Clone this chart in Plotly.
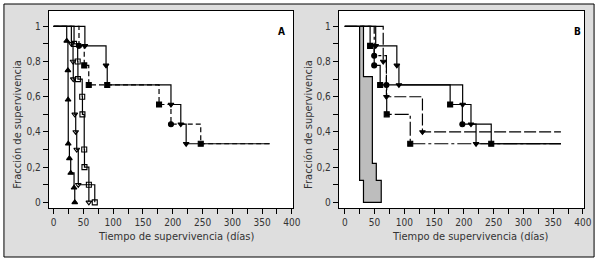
import plotly.graph_objects as go

W, H = 607, 264

# ---------------- data ----------------
x_ticks = list(range(0, 401, 25))
x_labels = [str(v) if v % 50 == 0 else "" for v in x_ticks]
y_ticks = [round(i * 0.1, 1) for i in range(11)]
y_labels = ["0", "", "0,2", "", "0,4", "", "0,6", "", "0,8", "", "1"]
end_day = 363

# Panel A
a_tri_t = [22, 24, 24.3, 24.6, 26.5, 28.7, 34.3, 35.5]
a_tri_s = [0.917, 0.75, 0.583, 0.333, 0.25, 0.167, 0.083, 0.0]
a_tri_open_t = [29.8, 32.6, 33, 35.5, 37.1, 38.8, 41.4, 59.2]
a_tri_open_s = [0.9, 0.8, 0.7, 0.5, 0.4, 0.3, 0.1, 0.0]
a_sq_open_t = [34.3, 40.4, 40.8, 48, 48.4, 51.4, 51.8, 59.2, 69.1]
a_sq_open_s = [0.9, 0.8, 0.7, 0.6, 0.5, 0.3, 0.2, 0.1, 0.0]
a_solid_t = [52.5, 88, 90, 197, 213.5, 222.5]
a_solid_s = [0.889, 0.778, 0.667, 0.556, 0.444, 0.333]
a_dash_t = [42.6, 51.4, 59, 177, 197, 247]
a_dash_s = [0.889, 0.778, 0.667, 0.556, 0.444, 0.333]

# Panel B
b_band_start = 25
b_band_upper_t = [31.5, 46.4, 53, 61.3]
b_band_upper_s = [0.714, 0.222, 0.125, 0.0]
b_band_lower_t = [25, 31.5]
b_band_lower_s = [0.125, 0.0]
b_ref1_t = [52, 87.5, 91, 198, 212, 220.5]
b_ref1_s = [0.889, 0.778, 0.667, 0.556, 0.444, 0.333]
b_ref2_t = [42.6, 49.5, 59.5, 177, 197.5, 246]
b_ref2_s = [0.889, 0.778, 0.667, 0.556, 0.444, 0.333]
b_g3_t = [49.5, 70, 70.5, 110]
b_g3_s = [0.833, 0.667, 0.5, 0.333]
b_g4_t = [64.6, 70, 130.5]
b_g4_s = [0.8, 0.6, 0.4]

# ---------------- styles ----------------
FONT = "Liberation Sans Narrow, DejaVu Sans Condensed, Arial Narrow, sans-serif"
sym_a_solid = ["triangle-down", "triangle-down", "square", "triangle-down", "triangle-down", "triangle-down"]
sym_a_dash = ["circle", "square", "square", "square", "circle", "square"]
sym_b_ref1 = ["triangle-down"] * 6
sym_b_ref2 = ["square", "circle", "square", "square", "circle", "square"]
sym_b_g3 = ["circle", "circle", "square", "square"]
sym_b_g4 = ["triangle-down"] * 3


def step_xy(times, surv, end=None):
    xs = [0] + list(times)
    ys = [1.0] + list(surv)
    if end is not None:
        xs.append(end)
        ys.append(surv[-1])
    return xs, ys


fig = go.Figure()


def km(times, surv, xa, ya, dash, symbols, size=5, end=None, open_marker=False):
    xs, ys = step_xy(times, surv, end)
    fig.add_trace(go.Scatter(x=xs, y=ys, mode="lines", line_shape="hv",
                             line=dict(color="black", width=1.2, dash=dash),
                             xaxis=xa, yaxis=ya, hoverinfo="skip", showlegend=False))
    fig.add_trace(go.Scatter(x=times, y=surv, mode="markers",
                             marker=dict(symbol=symbols, size=size,
                                         color="white" if open_marker else "black",
                                         line=dict(color="black", width=1.1)),
                             xaxis=xa, yaxis=ya, hoverinfo="skip", showlegend=False))


# Panel A
km(a_dash_t, a_dash_s, "x", "y", "5px,3px", sym_a_dash, end=end_day)
km(a_solid_t, a_solid_s, "x", "y", "solid", sym_a_solid, end=end_day)
km(a_sq_open_t, a_sq_open_s, "x", "y", "solid", "square-open", size=5)
km(a_tri_open_t, a_tri_open_s, "x", "y", "solid", "triangle-down-open", size=5)
km(a_tri_t, a_tri_s, "x", "y", "solid", "triangle-up", size=5)

# Panel B grey band
ux = [b_band_start]
uy = [1.0]
prev = 1.0
for t, s in zip(b_band_upper_t, b_band_upper_s):
    ux += [t, t]
    uy += [prev, s]
    prev = s
lx = [b_band_start]
ly = [1.0]
prev = 1.0
for t, s in zip(b_band_lower_t, b_band_lower_s):
    lx += [t, t]
    ly += [prev, s]
    prev = s
poly_x = ux + lx[::-1]
poly_y = uy + ly[::-1]
fig.add_trace(go.Scatter(x=poly_x, y=poly_y, mode="lines", fill="toself",
                         fillcolor="#bdbdbd", line=dict(color="black", width=1.2),
                         xaxis="x2", yaxis="y2", hoverinfo="skip", showlegend=False))

km(b_g4_t, b_g4_s, "x2", "y2", "12px,3px", sym_b_g4, end=end_day)
km(b_g3_t, b_g3_s, "x2", "y2", "14px,3px,3px,3px", sym_b_g3, end=end_day)
km(b_ref1_t, b_ref1_s, "x2", "y2", "solid", sym_b_ref1, end=end_day)
km(b_ref2_t, b_ref2_s, "x2", "y2", "solid", sym_b_ref2, end=end_day)

# ---------------- layout ----------------
yd = [1 - 208 / H, 1 - 11 / H]
xdA = [49.5 / W, 297 / W]
xdB = [343.3 / W, 592.3 / W]
yr = [-0.032, 1.087]

axis_common = dict(showline=True, linecolor="black", linewidth=1, mirror=True,
                   ticks="outside", ticklen=5, tickwidth=1, tickcolor="black",
                   showgrid=False, zeroline=False, fixedrange=True,
                   tickfont=dict(family=FONT, size=10, color="#333"))

shapes = [dict(type="rect", xref="paper", yref="paper", x0=4 / W, x1=602 / W,
               y0=1 - 257 / H, y1=1 - 4 / H, fillcolor="#dedede",
               line=dict(color="black", width=1), layer="below")]
for xd in (xdA, xdB):
    shapes.append(dict(type="rect", xref="paper", yref="paper", x0=xd[0], x1=xd[1],
                       y0=yd[0], y1=yd[1], fillcolor="white", line=dict(width=0),
                       layer="below"))

fig.update_layout(
    width=W, height=H, margin=dict(l=0, r=0, t=0, b=0),
    paper_bgcolor="white", plot_bgcolor="white",
    xaxis=dict(domain=xdA, range=[-8, 402], anchor="y", tickvals=x_ticks, ticktext=x_labels, **axis_common),
    yaxis=dict(domain=yd, range=yr, anchor="x", tickvals=y_ticks, ticktext=y_labels, **axis_common),
    xaxis2=dict(domain=xdB, range=[-10, 402.6], anchor="y2", tickvals=x_ticks, ticktext=x_labels, **axis_common),
    yaxis2=dict(domain=yd, range=yr, anchor="x2", tickvals=y_ticks, ticktext=y_labels, **axis_common),
    shapes=shapes,
)

ann = []
for cx, lx_, letter, letx in [(178, 17, "A", 285.5), (476, 312, "B", 585)]:
    ann.append(dict(text="Tiempo de supervivencia (días)", x=cx / W, y=1 - 236 / H,
                    xref="paper", yref="paper", showarrow=False, xanchor="center", yanchor="middle",
                    font=dict(family=FONT, size=11, color="#333")))
    ann.append(dict(text="Fracción de supervivencia", x=lx_ / W, y=1 - 124 / H, textangle=-90,
                    xref="paper", yref="paper", showarrow=False, xanchor="center", yanchor="middle",
                    font=dict(family=FONT, size=11, color="#333")))
    ann.append(dict(text="<b>" + letter + "</b>", x=letx / W, y=1 - 31.5 / H,
                    xref="paper", yref="paper", showarrow=False, xanchor="center", yanchor="middle",
                    font=dict(family=FONT, size=10, color="black")))
fig.update_layout(annotations=ann)

fig.write_html("out.html", config={"displayModeBar": False},
               post_script="document.body.style.margin='0px';")
